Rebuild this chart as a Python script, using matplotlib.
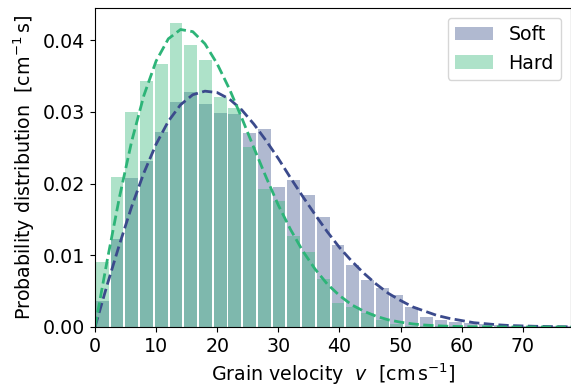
import numpy as np
import matplotlib
matplotlib.use("Agg")
import matplotlib.pyplot as plt

# histogram bins (cm/s) and bar heights
bin_width = 2.41
soft_hist = [0.0036, 0.0123, 0.0208, 0.0231, 0.0272, 0.0314, 0.0328, 0.0311,
             0.0298, 0.0297, 0.0270, 0.0276, 0.0195, 0.0205, 0.0184, 0.0153,
             0.0114, 0.0086, 0.0066, 0.0054, 0.0045, 0.0028, 0.0014, 0.0010,
             0.0007, 0.0006, 0.0004, 0.0003, 0.0002, 0.0002, 0.0001, 0.0001, 0.0001]
hard_hist = [0.0090, 0.0209, 0.0300, 0.0343, 0.0367, 0.0424, 0.0394, 0.0372,
             0.0321, 0.0305, 0.0251, 0.0192, 0.0176, 0.0127, 0.0105, 0.0067,
             0.0033, 0.0028, 0.0020, 0.0010, 0.0004, 0.0001, 0.0001, 0.0001,
             0.0001, 0.0000, 0.0000, 0.0000, 0.0000, 0.0000, 0.0000, 0.0000, 0.0000]

# dashed fit curves, read every 2 cm/s
curve_v = list(range(0, 80, 2))
soft_fit = [0.0, 0.0059, 0.0115, 0.0168, 0.0215, 0.0255, 0.0287, 0.0310, 0.0324, 0.0329,
            0.0327, 0.0318, 0.0303, 0.0283, 0.0260, 0.0235, 0.0208, 0.0182, 0.0157, 0.0133,
            0.0111, 0.0092, 0.0075, 0.0060, 0.0047, 0.0037, 0.0028, 0.0022, 0.0016, 0.0012,
            0.0009, 0.0006, 0.00045, 0.0003, 0.0002, 0.00015, 0.0001, 0.00007, 0.00004, 0.00003]
hard_fit = [0.0, 0.0093, 0.0181, 0.0259, 0.0323, 0.0371, 0.0402, 0.0415, 0.0412, 0.0395,
            0.0367, 0.0332, 0.0292, 0.0250, 0.0209, 0.0170, 0.0136, 0.0106, 0.0081, 0.0060,
            0.0044, 0.0031, 0.0022, 0.0015, 0.0010, 0.00067, 0.00043, 0.00027, 0.00017, 0.0001,
            0.00006, 0.00003, 0.00002, 0.00001, 0.0, 0.0, 0.0, 0.0, 0.0, 0.0]

soft_c = "#3b528b"
hard_c = "#35b779"

plt.rcParams["font.size"] = 13.7

fig = plt.figure(figsize=(5.71, 3.90), dpi=100)
ax = fig.add_axes([95 / 571, 1 - 327 / 390, 1 - 95 / 571, (327 - 8) / 390])

centers = (np.arange(len(soft_hist)) + 0.5) * bin_width
ax.bar(centers, soft_hist, width=0.87 * bin_width, color=soft_c, alpha=0.4, label="Soft")
ax.bar(centers, hard_hist, width=0.87 * bin_width, color=hard_c, alpha=0.4, label="Hard")

ax.plot(curve_v, soft_fit, "--", color="#3b4a8c", lw=2)
ax.plot(curve_v, hard_fit, "--", color="#2db478", lw=2)

ax.set_xlim(0, 77.9)
ax.set_ylim(0, 0.0445)
ax.set_yticks([0, 0.01, 0.02, 0.03, 0.04])
ax.yaxis.set_major_formatter(matplotlib.ticker.FormatStrFormatter("%.2f"))
ax.set_xlabel(r"Grain velocity  $v$  [$\mathrm{cm\,s^{-1}}$]")
ax.set_ylabel(r"Probability distribution  [$\mathrm{cm^{-1}\,s}$]")
ax.legend(loc="upper right")

fig.savefig("out.png", dpi=100)
